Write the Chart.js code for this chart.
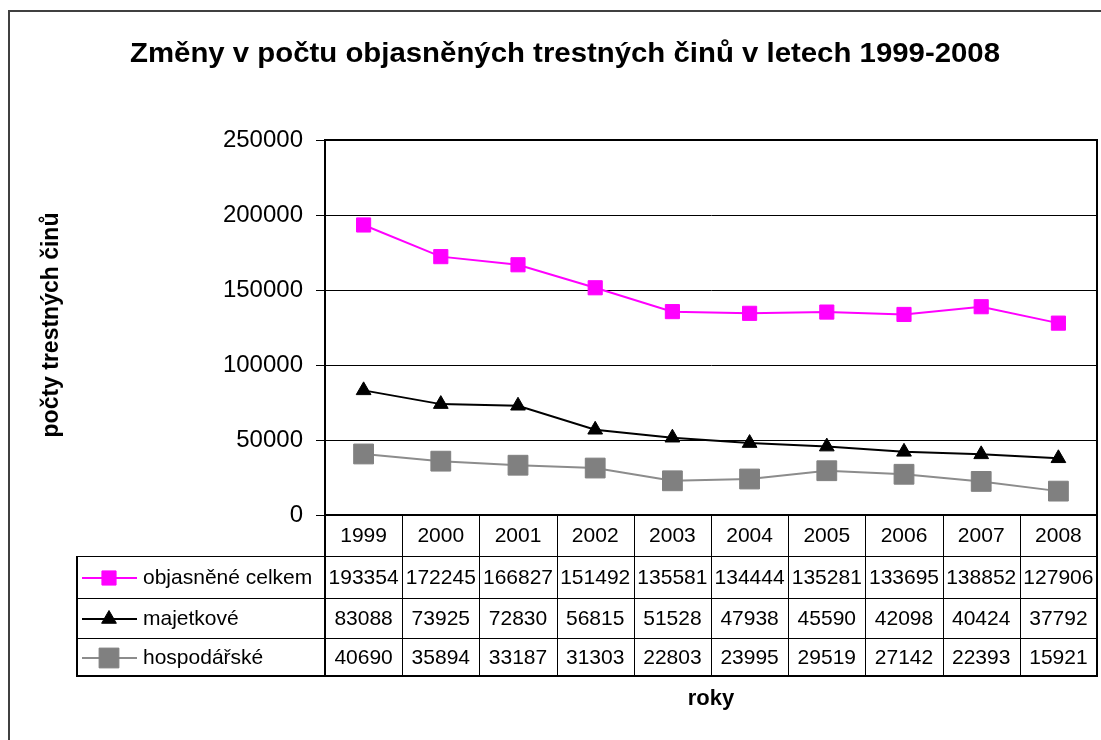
<!DOCTYPE html>
<html>
<head>
<meta charset="utf-8">
<title>Změny v počtu objasněných trestných činů</title>
<script src="https://cdn.jsdelivr.net/npm/chart.js@4.4.0/dist/chart.umd.min.js"></script>
<style>
    html, body { margin: 0; padding: 0; background: #fff; }
    #wrap { width: 1101px; height: 740px; position: relative; }
</style>
</head>
<body>
<div id="wrap"><canvas id="crimeChart" width="1101" height="740"></canvas></div>
<script>
    const years = ['1999', '2000', '2001', '2002', '2003', '2004', '2005', '2006', '2007', '2008'];
    const objasneneCelkem = [193354, 172245, 166827, 151492, 135581, 134444, 135281, 133695, 138852, 127906];
    const majetkove = [83088, 73925, 72830, 56815, 51528, 47938, 45590, 42098, 40424, 37792];
    const hospodarske = [40690, 35894, 33187, 31303, 22803, 23995, 29519, 27142, 22393, 15921];
    const seriesNames = ['objasněné celkem', 'majetkové', 'hospodářské'];
    const yTickValues = [0, 50000, 100000, 150000, 200000, 250000];

    const FONT = '"Liberation Sans", Arial, sans-serif';

    // draws title, axis titles, the data table and the outer frame
    const tablePlugin = {
        id: 'dataTable',
        afterDraw(chart) {
            const ctx = chart.ctx;
            const area = chart.chartArea;
            const xs = chart.scales.x;

            ctx.save();

            // outer frame (right/bottom cut off in the original)
            ctx.strokeStyle = '#404040';
            ctx.lineWidth = 2;
            ctx.beginPath();
            ctx.moveTo(9, 740);
            ctx.lineTo(9, 11);
            ctx.lineTo(1101, 11);
            ctx.stroke();

            // plot border
            ctx.strokeStyle = '#000';
            ctx.lineWidth = 2;
            ctx.strokeRect(area.left, area.top, area.right - area.left, area.bottom - area.top);

            // title, stretched to the width it has in the original
            ctx.fillStyle = '#000';
            ctx.textAlign = 'center';
            ctx.textBaseline = 'middle';
            ctx.font = 'bold 27px ' + FONT;
            const title = 'Změny v počtu objasněných trestných činů v letech 1999-2008';
            const tw = ctx.measureText(title).width;
            ctx.save();
            ctx.translate(565, 55);
            ctx.scale(870 / tw, 1);
            ctx.fillText(title, 0, 0);
            ctx.restore();

            // y axis title
            ctx.save();
            ctx.translate(52, 325);
            ctx.rotate(-Math.PI / 2);
            ctx.font = 'bold 23px ' + FONT;
            ctx.fillText('počty trestných činů', 0, 0);
            ctx.restore();

            // x axis title
            ctx.font = 'bold 22px ' + FONT;
            ctx.fillText('roky', (area.left + area.right) / 2, 699);

            // column boundaries from the category scale
            const bounds = [area.left];
            for (let i = 1; i < years.length; i++) {
                bounds.push((xs.getPixelForValue(i - 1) + xs.getPixelForValue(i)) / 2);
            }
            bounds.push(area.right);

            const tableLeft = 77;
            const headTop = area.bottom;
            const rowTops = [headTop + 41, headTop + 83, headTop + 123];
            const tableBottom = headTop + 161;
            const rowBottoms = [rowTops[1], rowTops[2], tableBottom];

            // grid lines
            ctx.strokeStyle = '#000';
            ctx.lineWidth = 1;
            ctx.beginPath();
            for (let i = 1; i < bounds.length - 1; i++) {
                ctx.moveTo(Math.round(bounds[i]) + 0.5, headTop);
                ctx.lineTo(Math.round(bounds[i]) + 0.5, tableBottom);
            }
            ctx.moveTo(tableLeft, rowTops[0] + 0.5);
            ctx.lineTo(area.right, rowTops[0] + 0.5);
            ctx.moveTo(tableLeft, rowTops[1] + 0.5);
            ctx.lineTo(area.right, rowTops[1] + 0.5);
            ctx.moveTo(tableLeft, rowTops[2] + 0.5);
            ctx.lineTo(area.right, rowTops[2] + 0.5);
            ctx.stroke();

            ctx.lineWidth = 2;
            ctx.beginPath();
            ctx.moveTo(area.left, headTop);
            ctx.lineTo(area.left, tableBottom);
            ctx.moveTo(area.right, headTop);
            ctx.lineTo(area.right, tableBottom);
            ctx.moveTo(tableLeft, rowTops[0]);
            ctx.lineTo(tableLeft, tableBottom);
            ctx.lineTo(area.right + 1, tableBottom);
            ctx.stroke();

            // header years
            ctx.font = '21px ' + FONT;
            ctx.textAlign = 'center';
            years.forEach((y, i) => {
                ctx.fillText(y, xs.getPixelForValue(i), (headTop + rowTops[0]) / 2 + 1);
            });

            // rows: legend key + values
            const series = [objasneneCelkem, majetkove, hospodarske];
            chart.data.datasets.forEach((ds, r) => {
                const cy = (rowTops[r] + rowBottoms[r]) / 2 + 1;
                ctx.strokeStyle = ds.borderColor;
                ctx.lineWidth = 2;
                ctx.beginPath();
                ctx.moveTo(82, cy);
                ctx.lineTo(137, cy);
                ctx.stroke();
                ctx.fillStyle = ds.pointBackgroundColor;
                ctx.strokeStyle = ds.pointBackgroundColor;
                ctx.lineWidth = 1;
                Chart.helpers.drawPoint(ctx, {
                    pointStyle: ds.pointStyle,
                    rotation: 0,
                    radius: ds.pointRadius,
                    borderWidth: 1
                }, 109, cy);

                ctx.fillStyle = '#000';
                ctx.textAlign = 'left';
                ctx.font = '21px ' + FONT;
                ctx.fillText(seriesNames[r], 143, cy);
                ctx.textAlign = 'center';
                series[r].forEach((v, i) => {
                    ctx.fillText(String(v), xs.getPixelForValue(i), cy);
                });
            });

            ctx.restore();
        }
    };

    const ctx = document.getElementById('crimeChart').getContext('2d');
    const crimeChart = new Chart(ctx, {
        type: 'line',
        data: {
            labels: years,
            datasets: [
                {
                    label: seriesNames[0],
                    data: objasneneCelkem,
                    borderColor: '#FF00FF',
                    borderWidth: 2,
                    pointStyle: 'rect',
                    pointRadius: 10,
                    pointBackgroundColor: '#FF00FF',
                    pointBorderColor: '#FF00FF',
                    pointBorderWidth: 1
                },
                {
                    label: seriesNames[1],
                    data: majetkove,
                    borderColor: '#000000',
                    borderWidth: 2,
                    pointStyle: 'triangle',
                    pointRadius: 8.5,
                    pointBackgroundColor: '#000000',
                    pointBorderColor: '#000000',
                    pointBorderWidth: 1
                },
                {
                    label: seriesNames[2],
                    data: hospodarske,
                    borderColor: '#8c8c8c',
                    borderWidth: 2,
                    pointStyle: 'rect',
                    pointRadius: 14,
                    pointBackgroundColor: '#808080',
                    pointBorderColor: '#808080',
                    pointBorderWidth: 1
                }
            ]
        },
        options: {
            responsive: false,
            animation: false,
            devicePixelRatio: 1,
            layout: {
                autoPadding: false,
                padding: { left: 10, top: 140, right: 4, bottom: 225 }
            },
            elements: {
                line: { tension: 0 }
            },
            scales: {
                x: {
                    type: 'category',
                    offset: true,
                    display: false
                },
                y: {
                    min: 0,
                    max: 250000,
                    afterFit(scale) { scale.width = 315; },
                    afterBuildTicks(scale) {
                        scale.ticks = yTickValues.map(v => ({ value: v }));
                    },
                    ticks: {
                        padding: 13,
                        color: '#000',
                        font: { family: FONT, size: 24 },
                        callback: v => String(v)
                    },
                    grid: {
                        color: '#000',
                        lineWidth: 1,
                        tickLength: 9
                    },
                    border: {
                        color: '#000',
                        width: 2
                    }
                }
            },
            plugins: {
                legend: { display: false },
                title: { display: false },
                tooltip: { enabled: false }
            }
        },
        plugins: [tablePlugin]
    });
</script>
</body>
</html>
